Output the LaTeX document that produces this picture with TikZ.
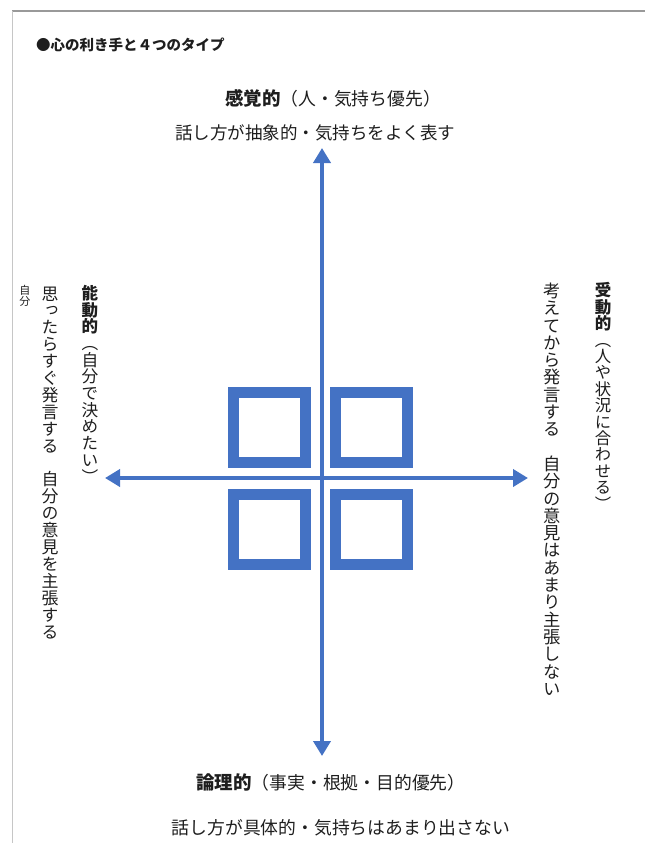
\documentclass[tikz,border=0pt]{standalone}
\usepackage{fontspec}
\newfontfamily\jp{Noto Sans CJK JP}
\newfontfamily\jpvert[RawFeature=+vert]{Noto Sans CJK JP}
\usetikzlibrary{arrows.meta}
\definecolor{qblue}{HTML}{4472C4}
\definecolor{txt}{HTML}{1E1E1E}
\makeatletter
\def\vcolend{\vcolend}
\newcommand\vcol[1]{\vcol@loop#1\vcolend}
\def\vcol@loop#1{\ifx\vcolend#1\else\hbox to 1em{\hss\vrule height .88em depth .12em width 0pt\relax #1\hss}\expandafter\vcol@loop\fi}
\makeatother
\newcommand\myvsz[1]{\fontsize{#1}{#1}\selectfont}
\tikzset{
  sq/.style={draw=qblue, line width=11pt, inner sep=0pt, minimum width=72pt, minimum height=70pt},
  axis/.style={draw=qblue, line width=4pt, {Triangle[width=17pt,length=15pt]}-{Triangle[width=17pt,length=15pt]}},
  htext/.style={inner sep=0pt, text=txt, font=\jp\fontsize{17.8}{19}\selectfont},
  vtext/.style={inner sep=0pt, text=txt, anchor=north, font=\jpvert},
}
\begin{document}
\begin{tikzpicture}[x=1pt,y=-1pt]
\useasboundingbox (0,0) rectangle (645,843);
% frame
\draw[draw=gray!80, line width=1.5pt] (12,11) -- (645,11);
\draw[draw=gray!45, line width=1pt] (12.5,11) -- (12.5,843);
% title
\node[htext, anchor=west, font=\jp\bfseries\fontsize{14.5}{16}\selectfont] (title) at (36,45) {●心の利き手と４つのタイプ};
% squares
\node[sq] (q1) at (269.5,427.5) {};
\node[sq] (q2) at (371.5,427.5) {};
\node[sq] (q3) at (269.5,529.5) {};
\node[sq] (q4) at (371.5,529.5) {};
% axes
\coordinate (top) at (322,148);
\coordinate (bot) at (322,756);
\coordinate (lft) at (105,478);
\coordinate (rgt) at (528,478);
\draw[axis] (top) -- (bot);
\draw[axis] (lft) -- (rgt);
% top / bottom labels
\node[htext, font=\jp\fontsize{17.8}{19}\selectfont] (th) at (333,98) {{\bfseries\fontsize{18.5}{19}\selectfont 感覚的}（人・気持ち優先）};
\node[htext, font=\jp\fontsize{17.5}{19}\selectfont] (ts) at (315,133) {話し方が抽象的・気持ちをよく表す};
\node[htext, font=\jp\fontsize{17.8}{19}\selectfont] (bh) at (331,782) {{\bfseries\fontsize{18.5}{19}\selectfont 論理的}（事実・根拠・目的優先）};
\node[htext] (bs) at (341,828) {話し方が具体的・気持ちはあまり出さない};
% left labels
\node[vtext] (lh) at (90,285) {\vbox{\offinterlineskip\bfseries\myvsz{16.5}\vcol{能動的}\mdseries\myvsz{16.7}\vcol{（自分で決めたい）}}};
\node[vtext] (ls) at (50,285) {\vbox{\offinterlineskip\myvsz{16.9}\vcol{思ったらすぐ発言する　自分の意見を主張する}}};
\node[vtext] (lx) at (25,285) {\vbox{\offinterlineskip\myvsz{11}\vcol{自分}}};
% right labels
\node[vtext] (rh) at (603,282) {\vbox{\offinterlineskip\bfseries\myvsz{16.5}\vcol{受動的}\mdseries\myvsz{16.4}\vcol{（人や状況に合わせる）}}};
\node[vtext] (rs) at (552,282) {\vbox{\offinterlineskip\myvsz{17.3}\vcol{考えてから発言する　自分の意見はあまり主張しない}}};
\end{tikzpicture}
\end{document}
